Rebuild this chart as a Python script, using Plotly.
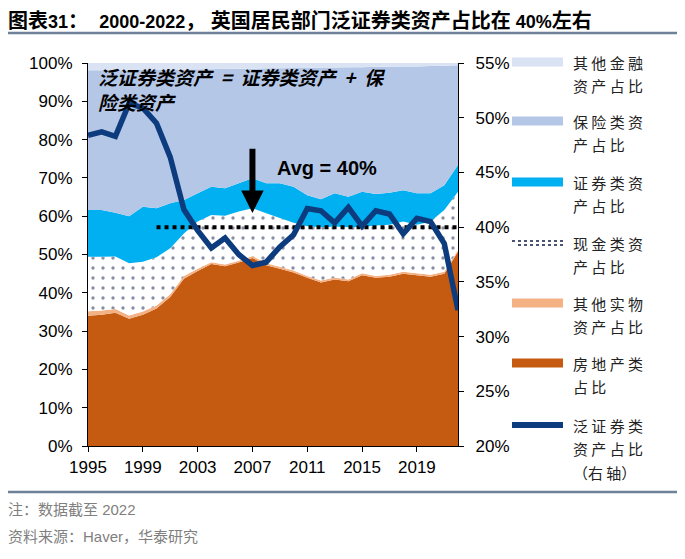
import plotly.graph_objects as go

# ---------------- data ----------------
years = list(range(1995, 2023))
real_estate = [34.0, 34.3, 34.8, 33.2, 34.3, 35.9, 38.9, 43.7, 45.7, 47.5, 46.9, 47.9, 49.1, 47.2,
               46.3, 45.3, 43.9, 42.7, 43.5, 43.0, 44.6, 43.9, 44.2, 45.0, 44.6, 44.2, 45.0, 50.7]
other_physical = [1.2, 1.1, 1.0, 0.9, 0.8, 0.8, 0.7, 0.7, 0.6, 0.5, 0.5, 0.5, 0.5, 0.5,
                  0.5, 0.5, 0.5, 0.5, 0.5, 0.5, 0.5, 0.5, 0.5, 0.5, 0.5, 0.5, 0.5, 0.5]
cash = [14.2, 14.0, 13.7, 13.6, 13.0, 12.6, 12.0, 11.1, 12.3, 12.3, 12.7, 12.8, 12.5, 13.1,
        12.7, 12.5, 13.0, 13.9, 13.3, 13.6, 12.1, 13.2, 13.1, 13.1, 12.7, 13.9, 16.1, 15.2]
securities = [12.2, 12.2, 11.4, 12.3, 14.4, 12.8, 11.8, 8.7, 7.4, 7.4, 7.2, 7.4, 7.8, 7.8,
              9.1, 9.4, 8.1, 7.3, 8.7, 8.0, 9.2, 8.2, 8.3, 8.2, 8.2, 7.4, 6.5, 7.0]
insurance = [36.5, 36.5, 37.2, 38.1, 35.7, 36.1, 34.9, 34.1, 32.4, 30.7, 31.2, 29.9, 28.6, 30.0,
             30.0, 31.0, 33.2, 34.4, 32.8, 33.8, 32.5, 33.2, 32.9, 32.3, 33.1, 33.2, 31.2, 26.0]
other_financial = [1.9, 1.9, 1.9, 1.9, 1.8, 1.8, 1.7, 1.7, 1.6, 1.6, 1.5, 1.5, 1.5, 1.4,
                   1.4, 1.3, 1.3, 1.2, 1.2, 1.1, 1.1, 1.0, 1.0, 0.9, 0.9, 0.8, 0.7, 0.6]
broad_securities = [48.4, 48.7, 48.3, 51.3, 50.9, 49.5, 46.4, 41.6, 39.7, 38.1, 39.0, 37.5, 36.5, 36.8,
                    38.2, 39.3, 41.7, 41.5, 40.4, 41.8, 40.1, 41.5, 41.2, 39.4, 40.8, 40.5, 38.5, 32.4]
avg_value = 40
avg_start = 2000
avg_arrow_year = 2007

x_ticks = [1995, 1999, 2003, 2007, 2011, 2015, 2019]
left_ticks = list(range(0, 101, 10))
left_labels = [f"{v}%" for v in left_ticks]
right_ticks = list(range(20, 56, 5))
right_labels = [f"{v}%" for v in right_ticks]

title_parts = [("图表", True), ("31", False), ("：  ", True), ("2000-2022", False),
               ("， ", True), ("英国居民部门泛证券类资产占比在", True), (" 40%", False), ("左右", True)]
note_text = "注：数据截至 2022"
source_text = "资料来源：Haver，华泰研究"
formula_text = "泛证券类资产  =  证券类资产  +  保<br>险类资产"
avg_text = "Avg = 40%"

legend_labels = [
    ["其 他 金 融", "资 产 占 比"],
    ["保 险 类 资", "产 占 比"],
    ["证 券 类 资", "产 占 比"],
    ["现 金 类 资", "产 占 比"],
    ["其 他 实 物", "资 产 占 比"],
    ["房 地 产 类", "占 比"],
    ["泛 证 券 类", "资 产 占 比", "（右 轴）"],
]

# ---------------- styles ----------------
C_RE = "#C55A11"
C_OP = "#F4B183"
C_SEC = "#00B0F0"
C_INS = "#B4C7E7"
C_OF = "#DAE3F3"
C_LINE = "#0C3B7E"
C_DOT = "#101C48"
C_RULE = "#6E8198"
FONT = "Liberation Sans, Noto Sans CJK SC, sans-serif"
CJK = "Noto Sans CJK SC, Liberation Sans, sans-serif"

OFF = 8  # page body margin
W, H = 685 - OFF, 559 - OFF
L, R, T, B = 88 - OFF, 458 - OFF, 63 - OFF, 446 - OFF


def px(x):  # reference page pixel -> paper x
    return (x - OFF - L) / (R - L)


def py(y):  # reference page pixel -> paper y
    return (B - (y - OFF)) / (B - T)


fig = go.Figure()

area_specs = [
    (real_estate, C_RE, None),
    (other_physical, C_OP, None),
    (cash, "white", dict(shape=".", bgcolor="white", fgcolor=C_DOT, size=10, solidity=0.09)),
    (securities, C_SEC, None),
    (insurance, C_INS, None),
    (other_financial, C_OF, None),
]
for vals, col, pat in area_specs:
    kw = dict(x=years, y=vals, mode="none", stackgroup="one", fillcolor=col,
              line=dict(width=0), showlegend=False, hoverinfo="skip")
    if pat:
        kw["fillpattern"] = pat
    fig.add_trace(go.Scatter(**kw))

avg_years = [y for y in years if y >= avg_start]
fig.add_trace(go.Scatter(x=avg_years, y=[avg_value] * len(avg_years), yaxis="y2", mode="lines",
                         line=dict(color="black", width=4, dash="dot"), showlegend=False))
fig.add_trace(go.Scatter(x=years, y=broad_securities, yaxis="y2", mode="lines",
                         line=dict(color=C_LINE, width=5.5), showlegend=False))

axis_font = dict(family=FONT, size=17, color="black")
fig.update_layout(
    width=W, height=H,
    margin=dict(l=L, r=W - R, t=T, b=H - B, pad=0),
    paper_bgcolor="white", plot_bgcolor="white",
    showlegend=False,
    xaxis=dict(range=[years[0], years[-1]], tickvals=x_ticks, ticks="outside", ticklen=5,
               tickcolor="black", showline=True, linecolor="black", linewidth=1.2,
               showgrid=False, zeroline=False, tickfont=axis_font),
    yaxis=dict(range=[0, 100], tickvals=left_ticks, ticktext=left_labels, ticks="outside", ticklen=5,
               tickcolor="black", showline=True, linecolor="black", linewidth=1.2,
               showgrid=False, zeroline=False, tickfont=axis_font, ticklabelstandoff=6),
    yaxis2=dict(range=[20, 55], tickvals=right_ticks, ticktext=right_labels, ticks="outside", ticklen=5,
                overlaying="y", side="right", tickcolor="black", showline=True,
                linecolor="black", linewidth=1.2, showgrid=False, zeroline=False,
                tickfont=axis_font, ticklabelstandoff=8),
)

ann = []
shapes = []
# title and rules
title_html = "".join(
    (f"<span style='font-size:20px'>{t}</span>" if cjk
     else f"<span style='font-size:18px'>{t}</span>") for t, cjk in title_parts)
ann.append(dict(text="<b>" + title_html + "</b>", x=px(6), y=py(21), xref="paper", yref="paper",
                xanchor="left", yanchor="middle", showarrow=False,
                font=dict(family=FONT, size=18, color="black")))
shapes.append(dict(type="line", xref="paper", yref="paper", x0=px(5), x1=px(681), y0=py(33), y1=py(33),
                   line=dict(color=C_RULE, width=2.5)))
shapes.append(dict(type="line", xref="paper", yref="paper", x0=px(5), x1=px(681), y0=py(492), y1=py(492),
                   line=dict(color=C_RULE, width=2.5)))
ann.append(dict(text=note_text, x=px(6), y=py(509), xref="paper", yref="paper", xanchor="left",
                yanchor="middle", showarrow=False, font=dict(family=FONT, size=15, color="#7F7F7F")))
ann.append(dict(text=source_text, x=px(6), y=py(536), xref="paper", yref="paper", xanchor="left",
                yanchor="middle", showarrow=False, font=dict(family=FONT, size=15, color="#7F7F7F")))

# formula note
ann.append(dict(text="<b><i>" + formula_text + "</i></b>", x=px(96), y=py(61), xref="paper",
                yref="paper", xanchor="left", yanchor="top", align="left", showarrow=False,
                font=dict(family=CJK, size=19, color="black")))
# avg text and arrow
ann.append(dict(text="<b>" + avg_text + "</b>", x=px(327), y=py(168), xref="paper", yref="paper",
                xanchor="center", yanchor="middle", showarrow=False,
                font=dict(family=FONT, size=20, color="black")))
ann.append(dict(x=avg_arrow_year, y=41.3, xref="x", yref="y2", ax=avg_arrow_year, ay=47.3,
                axref="x", ayref="y2", showarrow=True, arrowhead=2, arrowsize=0.75,
                arrowwidth=6, arrowcolor="black", text=""))

# custom legend
swatch_x0, swatch_x1, text_x = 512, 563, 571
item_y = [62, 121, 182, 243, 303, 363, 425]
swatch_colors = [C_OF, C_INS, C_SEC, None, C_OP, C_RE, "LINE"]
for i, (yc, col) in enumerate(zip(item_y, swatch_colors)):
    if col is None:
        shapes.append(dict(type="line", xref="paper", yref="paper", x0=px(swatch_x0), x1=px(swatch_x1),
                           y0=py(yc - 2), y1=py(yc - 2), line=dict(color=C_DOT, width=1.5, dash="dot")))
        shapes.append(dict(type="line", xref="paper", yref="paper", x0=px(swatch_x0 + 6), x1=px(swatch_x1),
                           y0=py(yc + 2), y1=py(yc + 2), line=dict(color=C_DOT, width=1.5, dash="dot")))
    elif col == "LINE":
        shapes.append(dict(type="line", xref="paper", yref="paper", x0=px(swatch_x0), x1=px(swatch_x1),
                           y0=py(yc), y1=py(yc), line=dict(color=C_LINE, width=6)))
    else:
        shapes.append(dict(type="rect", xref="paper", yref="paper", x0=px(swatch_x0), x1=px(swatch_x1),
                           y0=py(yc + 4.5), y1=py(yc - 4.5), line=dict(width=0), fillcolor=col))
    for j, line_text in enumerate(legend_labels[i]):
        ann.append(dict(text=line_text, x=px(text_x), y=py(yc + 23.5 * j), xref="paper", yref="paper",
                        xanchor="left", yanchor="middle", showarrow=False,
                        font=dict(family=CJK, size=15, color="#222222")))

fig.update_layout(annotations=ann, shapes=shapes)
fig.write_html("out.html")
